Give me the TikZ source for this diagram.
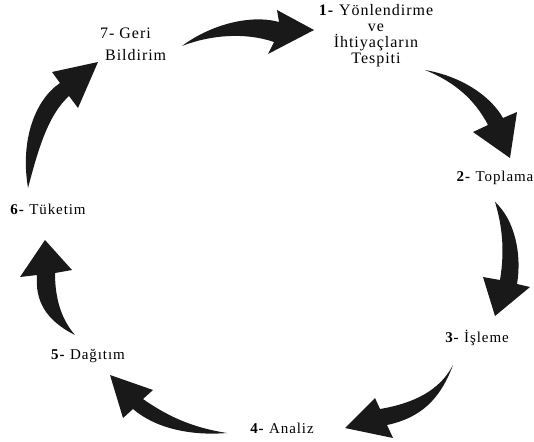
\documentclass[tikz,border=0pt]{standalone}
\usepackage{fontspec}
\setmainfont{Liberation Serif}[LetterSpace=6]
\usetikzlibrary{positioning}

\tikzset{
  cyclearrow/.style={fill=black!90, draw=none},
  steplabel/.style={font=\fontsize{15}{17}\selectfont, inner sep=0pt},
  biglabel/.style={font=\fontsize{16}{16}\selectfont, inner sep=0pt, align=center}
}

\begin{document}
\begin{tikzpicture}[x=1pt,y=-1pt]
\useasboundingbox (0,0) rectangle (534,441);

% labels of the cycle
\node[biglabel] (yon) at (376,36) {\textbf{1-} Yönlendirme\\ve\\İhtiyaçların\\Tespiti};
\node[steplabel] (top) at (495,178) {\textbf{2-} Toplama};
\node[steplabel] (isl) at (477,338) {\textbf{3-} İşleme};
\node[steplabel] (ana) at (282,428) {\textbf{4-} Analiz};
\node[steplabel] (dag) at (88,356) {\textbf{5-} Dağıtım};
\node[steplabel] (tuk) at (48,209) {\textbf{6-} Tüketim};
\node[steplabel, align=left, anchor=west, font=\fontsize{16}{22}\selectfont] (ger) at (100,44) {7- Geri\\\hspace{5pt}Bildirim};

% the arrows
% 7 -> 1
\fill[cyclearrow] (182,46) .. controls (210,25) and (250,14) .. (279,22)
  -- (277,10) -- (314,30) -- (268,54) -- (274,42)
  .. controls (245,32) and (210,35) .. (182,46) -- cycle;
% 1 -> 2
\fill[cyclearrow] (425,70) .. controls (460,76) and (490,95) .. (503,118)
  -- (517,112) -- (510,158) -- (473,132) -- (488,125)
  .. controls (475,100) and (455,82) .. (425,70) -- cycle;
% 2 -> 3
\fill[cyclearrow] (495,202) .. controls (515,220) and (522,255) .. (517,284)
  -- (530,287) -- (495,316) -- (483,277) -- (500,280)
  .. controls (505,250) and (502,225) .. (495,202) -- cycle;
% 3 -> 4
\fill[cyclearrow] (453,365) .. controls (440,400) and (420,418) .. (387,425)
  -- (393,438) -- (345,428) -- (375,398) -- (380,409)
  .. controls (415,403) and (440,390) .. (453,365) -- cycle;
% 4 -> 5
\fill[cyclearrow] (227,433) .. controls (190,436) and (155,428) .. (133,409)
  -- (123,418) -- (110,375) -- (153,390) -- (143,399)
  .. controls (170,418) and (195,428) .. (227,433) -- cycle;
% 5 -> 6
\fill[cyclearrow] (75,335) .. controls (45,320) and (35,300) .. (37,275)
  -- (20,277) -- (45,240) -- (72,270) -- (55,273)
  .. controls (55,300) and (62,320) .. (75,335) -- cycle;
% 6 -> 7
\fill[cyclearrow] (28,188) .. controls (20,140) and (35,100) .. (60,83)
  -- (52,72) -- (98,62) -- (78,108) -- (69,96)
  .. controls (48,115) and (38,150) .. (28,188) -- cycle;
\end{tikzpicture}
\end{document}
